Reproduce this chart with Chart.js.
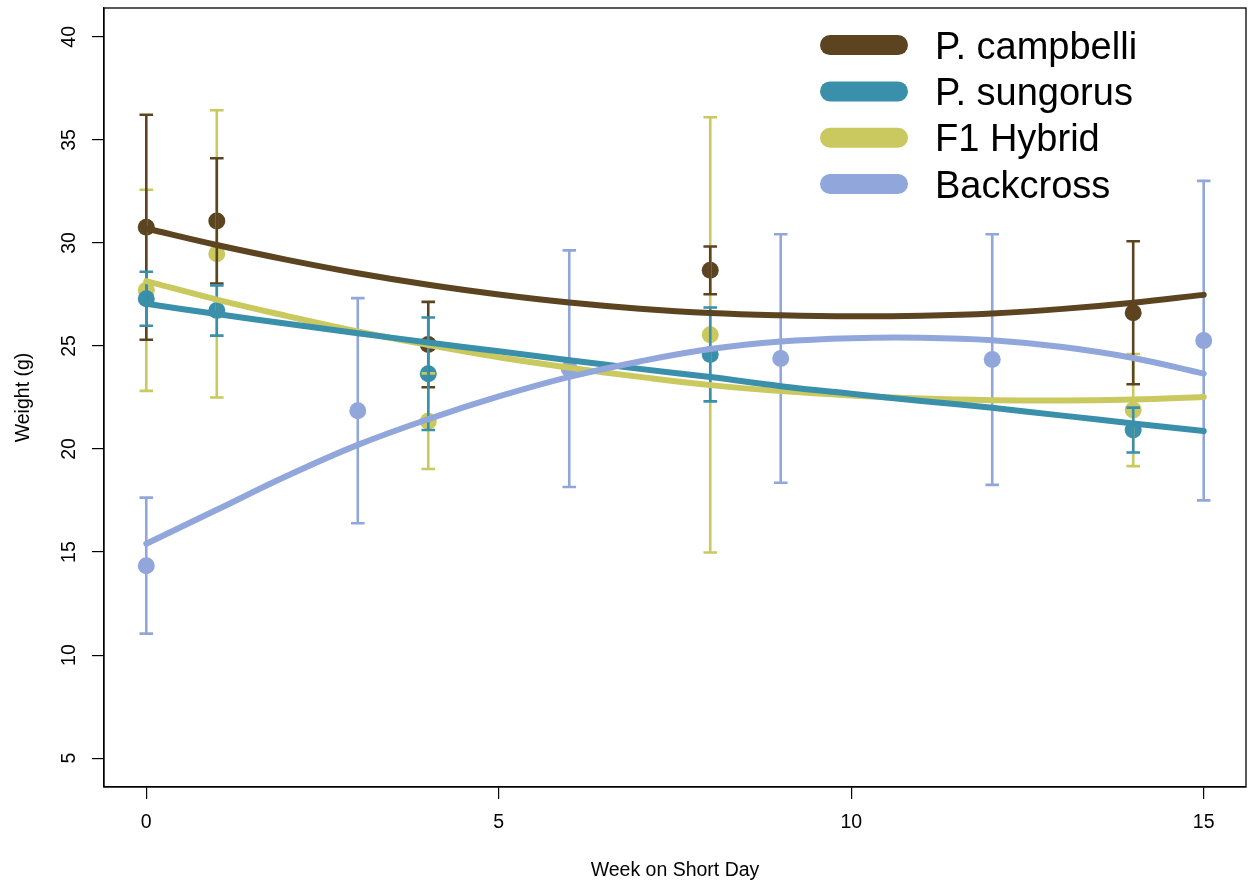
<!DOCTYPE html>
<html>
<head>
<meta charset="utf-8">
<script src="https://cdn.jsdelivr.net/npm/chart.js@4.4.1/dist/chart.umd.min.js"></script>
<style>
  html, body { margin: 0; padding: 0; background: #fff; }
  canvas { display: block; }
</style>
</head>
<body>
<canvas id="chart" width="1248" height="882"></canvas>
<script>
/* Weight by week on short day, four hamster groups */
const groups = ["P. campbelli", "P. sungorus", "F1 Hybrid", "Backcross"];
const colors = ["#5C4421", "#3A8FAB", "#C9C95F", "#91A6DA"];

const xTicks = [0, 5, 10, 15];
const yTicks = [5, 10, 15, 20, 25, 30, 35, 40];

// measured weeks
const weeksMain = [0, 1, 4, 8, 14];
const weeksBack = [0, 3, 6, 9, 12, 15];

// means and error (half bar length)
const campMean = [30.76, 31.07, 25.07, 28.67, 26.61];
const campErr  = [5.46, 3.04, 2.07, 1.16, 3.47];
const sungMean = [27.29, 26.72, 23.65, 24.59, 20.92];
const sungErr  = [1.31, 1.22, 2.73, 2.28, 1.09];
const f1Mean   = [27.70, 29.47, 21.35, 25.54, 21.89];
const f1Err    = [4.88, 6.97, 2.32, 10.56, 2.72];
const backMean = [14.34, 21.86, 23.90, 24.39, 24.34, 25.26];
const backErr  = [3.30, 5.46, 5.74, 6.03, 6.08, 7.75];

// fitted curves, read at every week
const fitWeeks = [0, 1, 2, 3, 4, 5, 6, 7, 8, 9, 10, 11, 12, 13, 14, 15];
const campFit = [30.70, 29.90, 29.18, 28.53, 27.97, 27.50, 27.11, 26.81, 26.60, 26.49, 26.44, 26.47, 26.58, 26.80, 27.10, 27.48];
const sungFit = [27.05, 26.55, 26.08, 25.62, 25.17, 24.74, 24.31, 23.89, 23.49, 23.05, 22.68, 22.33, 22.00, 21.62, 21.24, 20.87];
const f1Fit   = [28.15, 27.25, 26.45, 25.70, 25.05, 24.45, 23.95, 23.50, 23.10, 22.81, 22.60, 22.45, 22.37, 22.35, 22.40, 22.52];
const backFit = [15.40, 17.05, 18.70, 20.20, 21.45, 22.55, 23.50, 24.25, 24.85, 25.22, 25.38, 25.40, 25.28, 24.95, 24.42, 23.66];

const FONT = "'Liberation Sans', Arial, Helvetica, sans-serif";
const AXIS_PX = 19.5;
const pts = (xs, ys) => xs.map((x, i) => ({x, y: ys[i]}));

function pointSet(g, xs, ys, err, order, extra){
  return Object.assign({
    type: "scatter", label: groups[g], data: pts(xs, ys), err,
    backgroundColor: colors[g], borderWidth: 0, pointRadius: 8.5, pointHoverRadius: 8.5, order
  }, extra || {});
}
function curveSet(g, ys, order){
  return {
    type: "line", label: groups[g] + " fit", data: pts(fitWeeks, ys),
    borderColor: colors[g], borderWidth: 6, borderCapStyle: "round", pointRadius: 0,
    tension: 0.4, fill: false, order
  };
}

// error bars drawn once all points are down, before the curves
const errorBars = {
  id: "errorBars",
  afterDatasetDraw(chart, args){
    if (!chart.data.datasets[args.index].drawBars) return;
    const {ctx, scales: {x, y}} = chart;
    const barOrder = [2, 0, 1, 3];   // F1, campbelli, sungorus, backcross
    ctx.save();
    ctx.lineWidth = 2.6;
    ctx.lineCap = "butt";
    barOrder.forEach(g => {
      const ds = chart.data.datasets.find(d => d.type === "scatter" && d.label === groups[g]);
      ctx.strokeStyle = colors[g];
      ds.data.forEach((p, i) => {
        const px = x.getPixelForValue(p.x);
        const top = y.getPixelForValue(p.y + ds.err[i]);
        const bot = y.getPixelForValue(p.y - ds.err[i]);
        ctx.beginPath();
        ctx.moveTo(px, top); ctx.lineTo(px, bot);
        ctx.moveTo(px - 6.8, top); ctx.lineTo(px + 6.8, top);
        ctx.moveTo(px - 6.8, bot); ctx.lineTo(px + 6.8, bot);
        ctx.stroke();
      });
    });
    ctx.restore();
  }
};

// box, rotated y labels and the legend inside the plot
const frame = {
  id: "frame",
  afterDraw(chart){
    const {ctx, chartArea: a, scales: {y}} = chart;
    ctx.save();
    ctx.strokeStyle = "#000";
    ctx.lineWidth = 1.3;
    ctx.strokeRect(a.left, a.top, a.right - a.left, a.bottom - a.top);

    ctx.fillStyle = "#000";
    ctx.font = AXIS_PX + "px " + FONT;
    ctx.textAlign = "center";
    ctx.textBaseline = "middle";
    yTicks.forEach(v => {
      ctx.save();
      ctx.translate(70, y.getPixelForValue(v));
      ctx.rotate(-Math.PI / 2);
      ctx.fillText(String(v), 0, 0);
      ctx.restore();
    });

    ctx.font = "38px " + FONT;
    ctx.textAlign = "left";
    ctx.textBaseline = "alphabetic";
    groups.forEach((name, i) => {
      const ly = 45.1 + i * 46.3;
      ctx.strokeStyle = colors[i];
      ctx.lineWidth = 20;
      ctx.lineCap = "round";
      ctx.beginPath();
      ctx.moveTo(830, ly); ctx.lineTo(898, ly);
      ctx.stroke();
      ctx.fillText(name, 935, ly + 13.6);
    });
    ctx.restore();
  }
};

new Chart(document.getElementById("chart"), {
  data: {
    datasets: [
      pointSet(2, weeksMain, f1Mean, f1Err, 8),
      pointSet(0, weeksMain, campMean, campErr, 7),
      pointSet(1, weeksMain, sungMean, sungErr, 6),
      pointSet(3, weeksBack, backMean, backErr, 5, {drawBars: true}),
      curveSet(0, campFit, 4),
      curveSet(2, f1Fit, 3),
      curveSet(1, sungFit, 2),
      curveSet(3, backFit, 1)
    ]
  },
  options: {
    responsive: false,
    animation: false,
    devicePixelRatio: 1,
    layout: { autoPadding: false, padding: { top: 8, right: 2, left: 0, bottom: 0 } },
    plugins: { legend: { display: false }, tooltip: { enabled: false } },
    scales: {
      x: {
        type: "linear", min: -0.6, max: 15.6,
        afterBuildTicks: ax => { ax.ticks = xTicks.map(v => ({value: v})); },
        afterFit: s => { s.height = 95; s.paddingLeft = 0; s.paddingRight = 0; },
        grid: { drawOnChartArea: false, drawTicks: true, tickLength: 12, color: "#000", lineWidth: 1.2 },
        border: { display: true, color: "#000", width: 1.2 },
        ticks: { color: "#000", font: { family: FONT, size: AXIS_PX }, padding: 12, maxRotation: 0 },
        title: { display: true, text: "Week on Short Day", color: "#000",
                 font: { family: FONT, size: AXIS_PX }, padding: { top: 0, bottom: 0 } }
      },
      y: {
        type: "linear", min: 3.6, max: 41.4,
        afterBuildTicks: ax => { ax.ticks = yTicks.map(v => ({value: v})); },
        afterFit: s => { s.width = 104; s.paddingTop = 0; s.paddingBottom = 0; },
        grid: { drawOnChartArea: false, drawTicks: true, tickLength: 12, color: "#000", lineWidth: 1.2 },
        border: { display: true, color: "#000", width: 1.2 },
        ticks: { display: false },
        title: { display: true, text: "Weight (g)", color: "#000",
                 font: { family: FONT, size: AXIS_PX }, padding: { top: 12, bottom: 0 } }
      }
    }
  },
  plugins: [errorBars, frame]
});
</script>
</body>
</html>
